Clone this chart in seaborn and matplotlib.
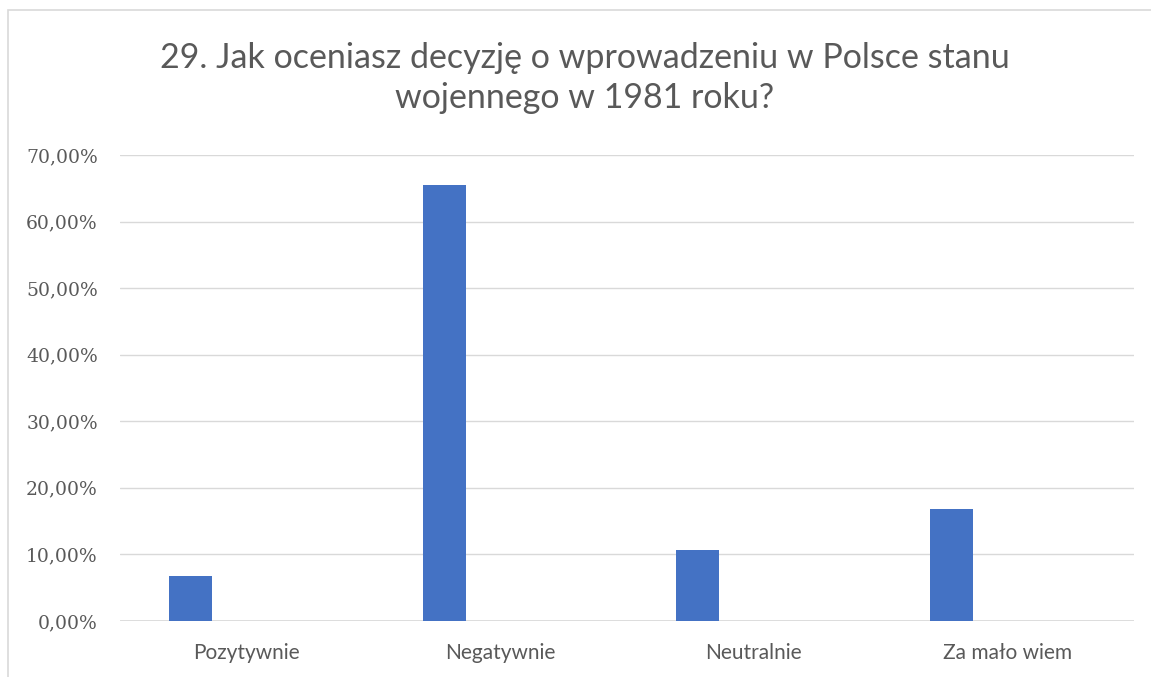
import matplotlib
matplotlib.use("Agg")
import matplotlib.pyplot as plt
import seaborn as sns
import pandas as pd
from matplotlib.patches import Rectangle

categories = ["Pozytywnie", "Negatywnie", "Neutralnie", "Za mało wiem"]
values = [6.7, 65.5, 10.6, 16.8]
yticks = [0, 10, 20, 30, 40, 50, 60, 70]
ytick_labels = ["0,00%", "10,00%", "20,00%", "30,00%", "40,00%", "50,00%", "60,00%", "70,00%"]
title = "29. Jak oceniasz decyzję o wprowadzeniu w Polsce stanu\nwojennego w 1981 roku?"

df = pd.DataFrame({"cat": categories, "val": values})

sns.set_theme(style="white")
plt.rcParams["font.family"] = ["Lato", "DejaVu Sans"]

W, H = 1151, 677
fig = plt.figure(figsize=(W / 100, H / 100), dpi=100)
ax = fig.add_axes([120 / W, 1 - 621 / H, (1134 - 120) / W, (621 - 155) / H])

bar_w = 0.17
sns.barplot(data=df, x="cat", y="val", order=categories, color="#4472C4",
            width=bar_w, saturation=1, ax=ax, errorbar=None)
# offset bars to the left within each category (as in the original layout)
for p in ax.patches:
    p.set_x(p.get_x() - 0.221)
    p.set_edgecolor("none")

ax.set_xlim(-0.5, len(categories) - 0.5)
ax.set_ylim(0, 70)
ax.set_yticks(yticks)
ax.set_yticklabels(ytick_labels, family=["DejaVu Serif"], fontsize=13.5, color="#595959")
ax.set_xticks(range(len(categories)))
ax.set_xticklabels(categories, fontsize=15, color="#595959")
ax.tick_params(axis="x", length=0, pad=16)
ax.tick_params(axis="y", length=0, pad=16)
ax.set_xlabel("")
ax.set_ylabel("")
ax.yaxis.grid(True, color="#d9d9d9", linewidth=1)
ax.set_axisbelow(True)
for s in ax.spines.values():
    s.set_visible(False)
ax.axhline(0, color="#d9d9d9", linewidth=1.2, zorder=0.5)

fig.text(585 / W, 1 - 78 / H, title, ha="center", va="center", fontsize=24.5,
         color="#595959", linespacing=1.3)

fig.patches.append(Rectangle((8 / W, -0.1), 1.2, 1 - 10 / H + 0.1, transform=fig.transFigure,
                             fill=False, edgecolor="#d9d9d9", linewidth=1.2))

fig.savefig("out.png", dpi=100, facecolor="white")
